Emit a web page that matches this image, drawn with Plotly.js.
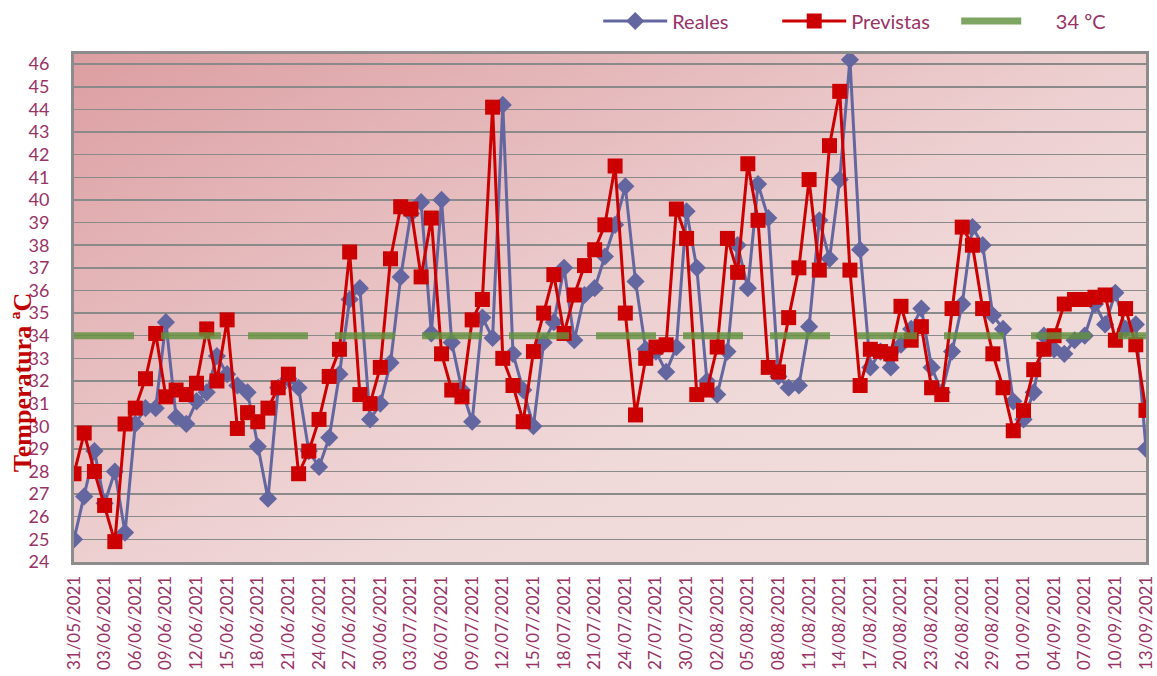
<!DOCTYPE html>
<html>
<head>
<meta charset="utf-8">
<script src="https://cdn.plot.ly/plotly-3.0.1.min.js"></script>
<style>
  html, body { margin: 0; padding: 0; background: #ffffff; }
  #wrap { position: relative; width: 1157px; height: 676px; overflow: hidden; }
  #bg { position: absolute; left: 74px; top: 54px; width: 1072px; height: 508px;
        background: linear-gradient(to bottom right, #DC9EA1 0%, #E6BBBD 30%, #EDCFD0 50%, #F0D9D9 65%, #F1DCDC 100%); }
  #chart { position: absolute; left: 0; top: 0; width: 1157px; height: 676px; }
</style>
</head>
<body>
<div id="wrap">
  <div id="bg"></div>
  <div id="chart"></div>
</div>
<script>
// Categories: daily dates 31/05/2021 .. 13/09/2021
const fechas = [
  "2021-05-31",
  "2021-06-01","2021-06-02","2021-06-03","2021-06-04","2021-06-05","2021-06-06","2021-06-07","2021-06-08","2021-06-09","2021-06-10",
  "2021-06-11","2021-06-12","2021-06-13","2021-06-14","2021-06-15","2021-06-16","2021-06-17","2021-06-18","2021-06-19","2021-06-20",
  "2021-06-21","2021-06-22","2021-06-23","2021-06-24","2021-06-25","2021-06-26","2021-06-27","2021-06-28","2021-06-29","2021-06-30",
  "2021-07-01","2021-07-02","2021-07-03","2021-07-04","2021-07-05","2021-07-06","2021-07-07","2021-07-08","2021-07-09","2021-07-10",
  "2021-07-11","2021-07-12","2021-07-13","2021-07-14","2021-07-15","2021-07-16","2021-07-17","2021-07-18","2021-07-19","2021-07-20",
  "2021-07-21","2021-07-22","2021-07-23","2021-07-24","2021-07-25","2021-07-26","2021-07-27","2021-07-28","2021-07-29","2021-07-30","2021-07-31",
  "2021-08-01","2021-08-02","2021-08-03","2021-08-04","2021-08-05","2021-08-06","2021-08-07","2021-08-08","2021-08-09","2021-08-10",
  "2021-08-11","2021-08-12","2021-08-13","2021-08-14","2021-08-15","2021-08-16","2021-08-17","2021-08-18","2021-08-19","2021-08-20",
  "2021-08-21","2021-08-22","2021-08-23","2021-08-24","2021-08-25","2021-08-26","2021-08-27","2021-08-28","2021-08-29","2021-08-30","2021-08-31",
  "2021-09-01","2021-09-02","2021-09-03","2021-09-04","2021-09-05","2021-09-06","2021-09-07","2021-09-08","2021-09-09","2021-09-10",
  "2021-09-11","2021-09-12","2021-09-13"
];

// Measured temperatures (Reales)
const reales = [
  25.0,
  26.9, 28.9, 26.6, 28.0, 25.3, 30.1, 30.8, 30.8, 34.6, 30.4,
  30.1, 31.1, 31.5, 33.1, 32.3, 31.8, 31.5, 29.1, 26.8, 31.7,
  32.1, 31.7, 28.9, 28.2, 29.5, 32.3, 35.6, 36.1, 30.3, 31.0,
  32.8, 36.6, 39.4, 39.9, 34.1, 40.0, 33.7, 31.6, 30.2, 34.8,
  33.9, 44.2, 33.2, 31.6, 30.0, 33.7, 34.6, 37.0, 33.8, 35.8,
  36.1, 37.5, 38.9, 40.6, 36.4, 33.4, 33.3, 32.4, 33.5, 39.5, 37.0,
  32.0, 31.4, 33.3, 38.0, 36.1, 40.7, 39.2, 32.2, 31.7, 31.8,
  34.4, 39.1, 37.4, 40.9, 46.2, 37.8, 32.6, 33.3, 32.6, 33.6,
  34.3, 35.2, 32.6, 31.5, 33.3, 35.4, 38.8, 38.0, 34.9, 34.3, 31.1,
  30.3, 31.5, 34.0, 33.4, 33.2, 33.8, 34.0, 35.4, 34.5, 35.9,
  34.3, 34.5, 29.0
];

// Forecast temperatures (Previstas)
const previstas = [
  27.9,
  29.7, 28.0, 26.5, 24.9, 30.1, 30.8, 32.1, 34.1, 31.3, 31.6,
  31.4, 31.9, 34.3, 32.0, 34.7, 29.9, 30.6, 30.2, 30.8, 31.7,
  32.3, 27.9, 28.9, 30.3, 32.2, 33.4, 37.7, 31.4, 31.0, 32.6,
  37.4, 39.7, 39.6, 36.6, 39.2, 33.2, 31.6, 31.3, 34.7, 35.6,
  44.1, 33.0, 31.8, 30.2, 33.3, 35.0, 36.7, 34.1, 35.8, 37.1,
  37.8, 38.9, 41.5, 35.0, 30.5, 33.0, 33.5, 33.6, 39.6, 38.3, 31.4,
  31.6, 33.5, 38.3, 36.8, 41.6, 39.1, 32.6, 32.4, 34.8, 37.0,
  40.9, 36.9, 42.4, 44.8, 36.9, 31.8, 33.4, 33.3, 33.2, 35.3,
  33.8, 34.4, 31.7, 31.4, 35.2, 38.8, 38.0, 35.2, 33.2, 31.7, 29.8,
  30.7, 32.5, 33.4, 34.0, 35.4, 35.6, 35.6, 35.7, 35.8, 33.8,
  35.2, 33.6, 30.7
];

// Threshold line (34 ºC)
const umbralX = ["2021-05-31", "2021-09-13"];
const umbralY = [34, 34];

// Axis ticks
const yTicks = [24,25,26,27,28,29,30,31,32,33,34,35,36,37,38,39,40,41,42,43,44,45,46];

const plum = "#993366";
const fontFam = "Lato, 'Open Sans', sans-serif";

const traces = [
  {
    type: "scatter", mode: "lines+markers", name: "Reales",
    x: fechas, y: reales,
    line: { color: "#6466A0", width: 3 },
    marker: { symbol: "diamond", size: 14, color: "#6466A0" }
  },
  {
    type: "scatter", mode: "lines+markers", name: "Previstas",
    x: fechas, y: previstas,
    line: { color: "#CC0000", width: 3 },
    marker: { symbol: "square", size: 15, color: "#CC0000" }
  },
  {
    type: "scatter", mode: "lines", name: "\u00A0\u00A0\u00A0\u00A0\u00A034 ºC",
    x: umbralX, y: umbralY,
    line: { color: "rgba(98,145,62,0.82)", width: 7, dash: "60px,27px" }
  }
];

const layout = {
  width: 1157, height: 676,
  margin: { l: 74, r: 11, t: 54, b: 114, pad: 0, autoexpand: false },
  paper_bgcolor: "rgba(0,0,0,0)",
  plot_bgcolor: "rgba(0,0,0,0)",
  font: { family: fontFam, color: plum, size: 18 },
  showlegend: true,
  legend: {
    orientation: "h", x: 0.489, xanchor: "left", y: 1.065, yanchor: "middle",
    font: { family: fontFam, color: plum, size: 20 },
    bgcolor: "rgba(0,0,0,0)", itemwidth: 64, entrywidth: 100, entrywidthmode: "pixels",
    traceorder: "normal"
  },
  xaxis: {
    type: "date",
    range: [fechas[0], fechas[fechas.length - 1]],
    tick0: fechas[0], dtick: 3 * 86400000,
    tickformat: "%d/%m/%Y", tickangle: -90,
    tickfont: { family: fontFam, color: plum, size: 17 },
    showgrid: false, zeroline: false,
    showline: true, linecolor: "#8C8C8C", linewidth: 3, mirror: true,
    ticks: "", ticklabelstandoff: 4, automargin: false
  },
  yaxis: {
    range: [24, 46.45],
    tickvals: yTicks, ticktext: yTicks.map(String),
    tickfont: { family: fontFam, color: plum, size: 18 },
    showgrid: true, gridcolor: "#8A8A8A", gridwidth: 1.5,
    zeroline: false,
    showline: true, linecolor: "#8C8C8C", linewidth: 3, mirror: true,
    ticks: "", ticklabelstandoff: 18, automargin: false
  },
  annotations: [
    {
      text: "<b>Temperatura ªC</b>", xref: "paper", yref: "paper",
      x: -0.0485, y: 0.352, xanchor: "center", yanchor: "middle",
      textangle: -90, showarrow: false,
      font: { family: "'Liberation Serif', 'DejaVu Serif', serif", color: "#C00000", size: 26 }
    }
  ]
};

Plotly.newPlot("chart", traces, layout, { staticPlot: true, displayModeBar: false });
</script>
</body>
</html>
